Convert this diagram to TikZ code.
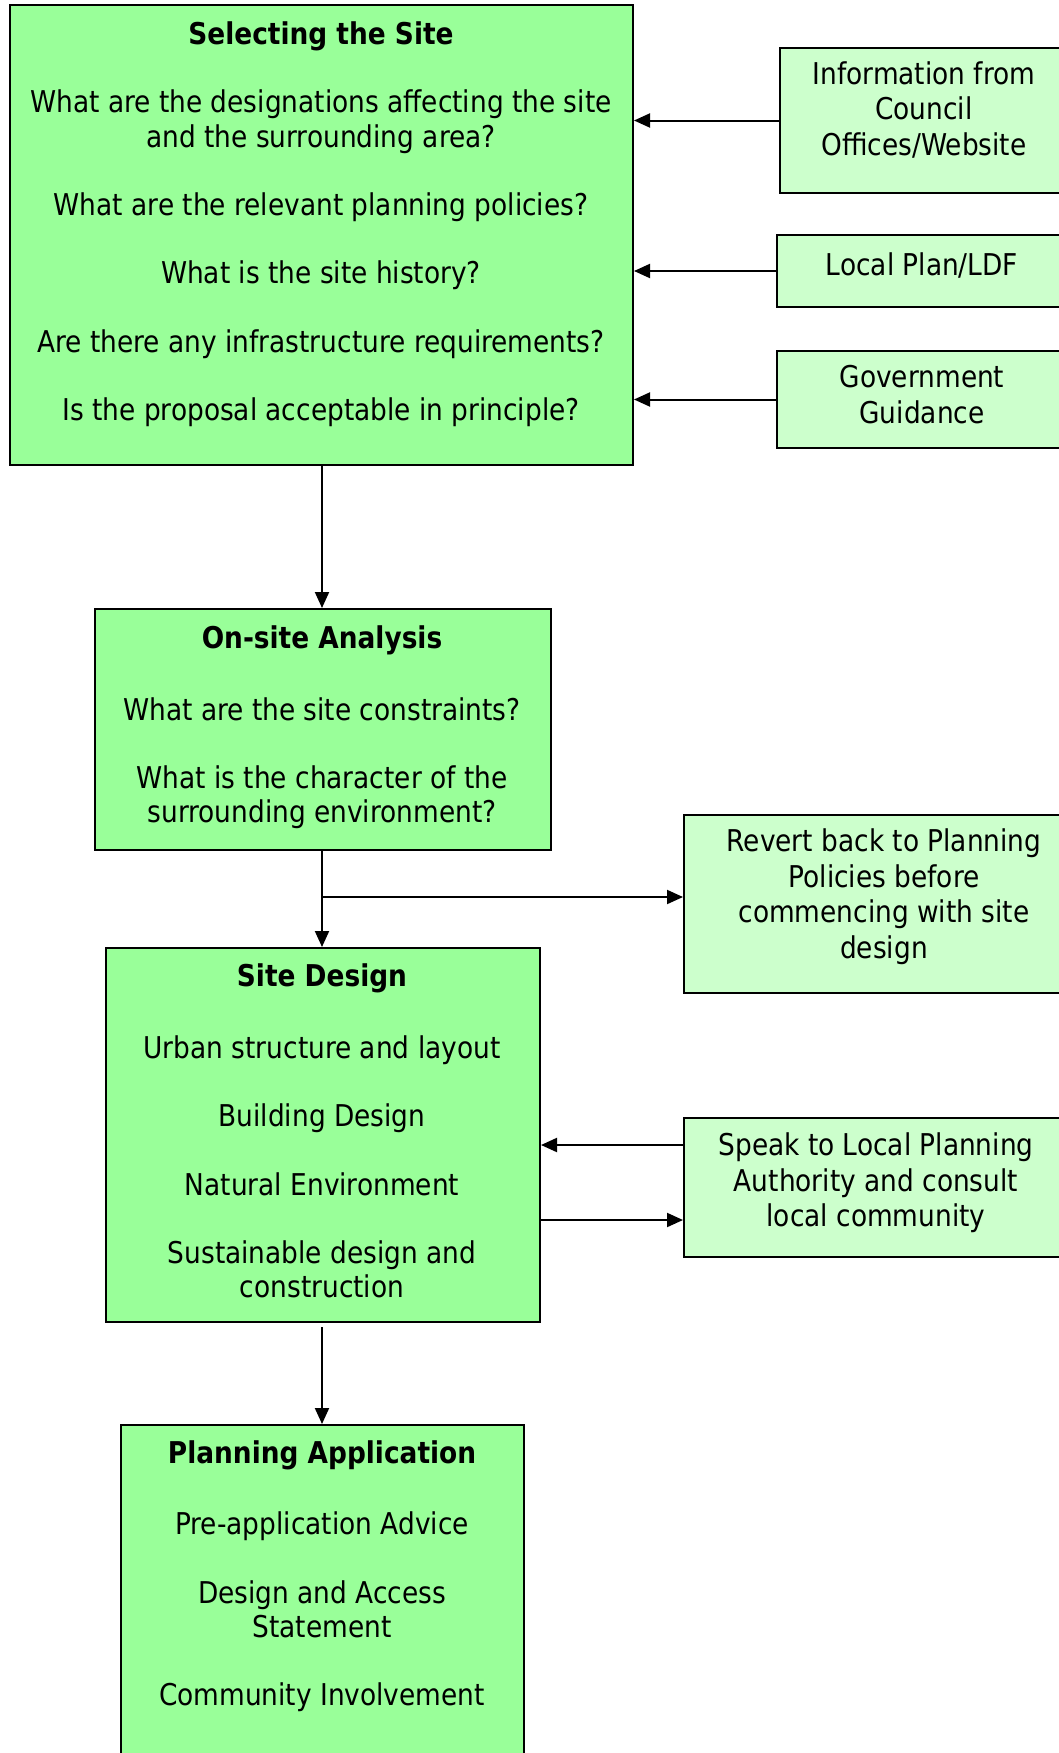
\documentclass[tikz,border=0pt]{standalone}
\usepackage{fontspec}
\setmainfont{DejaVu Sans}[FakeStretch=0.88]
\usetikzlibrary{arrows.meta}
\definecolor{maingreen}{RGB}{153,255,153}
\definecolor{sidegreen}{RGB}{204,255,204}
\begin{document}
\begin{tikzpicture}[x=1pt,y=-1pt,
  mainbox/.style={draw=black, line width=2pt, fill=maingreen, inner sep=0pt, anchor=north west},
  sidebox/.style={draw=black, line width=2pt, fill=sidegreen, inner sep=0pt, anchor=north west},
  txt/.style={align=center, inner sep=0pt, anchor=north, font=\fontsize{30}{34.2}\selectfont},
  sidetxt/.style={align=center, inner sep=0pt, anchor=north, font=\fontsize{30}{35.5}\selectfont},
  arr/.style={line width=2pt, -{Triangle[length=16pt,width=14pt]}}]
\useasboundingbox (0,0) rectangle (1058,1753);
% main boxes
\node[mainbox, minimum width=623pt, minimum height=459.5pt] (site) at (9,4.5) {};
\node[mainbox, minimum width=456pt, minimum height=241pt] (onsite) at (94,608) {};
\node[mainbox, minimum width=434pt, minimum height=374pt] (design) at (105,947) {};
\node[mainbox, minimum width=403pt, minimum height=345pt] (apply) at (120,1424) {};
% side boxes
\node[sidebox, minimum width=290pt, minimum height=145pt] (info) at (779,47) {};
\node[sidebox, minimum width=290pt, minimum height=72pt] (local) at (776,234) {};
\node[sidebox, minimum width=290pt, minimum height=97pt] (gov) at (776,350) {};
\node[sidebox, minimum width=400pt, minimum height=178pt] (revert) at (683,814) {};
\node[sidebox, minimum width=400pt, minimum height=139pt] (speak) at (683,1117) {};
% texts
\node[txt] (sitetxt) at (321,21.5) {\textbf{Selecting the Site}\\[34.2pt]
  What are the designations affecting the site\\ and the surrounding area?\\[34.2pt]
  What are the relevant planning policies?\\[34.2pt]
  What is the site history?\\[34.2pt]
  Are there any infrastructure requirements?\\[34.2pt]
  Is the proposal acceptable in principle?};
\node[txt] (onsitetxt) at (322,625.5) {\textbf{On-site Analysis}\\[37.6pt]
  What are the site constraints?\\[34.2pt]
  What is the character of the\\ surrounding environment?};
\node[txt] (designtxt) at (322,963.5) {\textbf{Site Design}\\[37.6pt]
  Urban structure and layout\\[34.2pt]
  Building Design\\[34.2pt]
  Natural Environment\\[34.2pt]
  Sustainable design and\\ construction};
\node[txt] (applytxt) at (322,1440) {\textbf{Planning Application}\\[37.6pt]
  Pre-application Advice\\[34.2pt]
  Design and Access\\ Statement\\[34.2pt]
  Community Involvement};
\node[sidetxt] (infotxt) at (924,61.5) {Information from\\ Council\\ Offices/Website};
\node[sidetxt] (localtxt) at (922,252.5) {Local Plan/LDF};
\node[sidetxt] (govtxt) at (922,365.5) {Government\\ Guidance};
\node[sidetxt] (reverttxt) at (884,828.5) {Revert back to Planning\\ Policies before\\ commencing with site\\ design};
\node[sidetxt] (speaktxt) at (876,1132.5) {Speak to Local Planning\\ Authority and consult\\ local community};
% connectors
\draw[arr] (info.west) -- (info.west -| site.east);
\draw[arr] (local.west) -- (local.west -| site.east);
\draw[arr] (gov.west) -- (gov.west -| site.east);
\draw[arr] (site.south -| 322,0) -- (onsite.north -| 322,0);
\coordinate (br) at (322,897);
\draw[arr] (onsite.south -| 322,0) -- (design.north -| 322,0);
\draw[arr] (br) -- (br -| revert.west);
\draw[arr] ([yshift=42.5pt]speak.west) -- ([yshift=42.5pt]speak.west -| design.east);
\draw[arr] ([yshift=-32.5pt]speak.west -| design.east) -- ([yshift=-32.5pt]speak.west);
\draw[arr] ([yshift=-4pt]design.south -| 322,0) -- (apply.north -| 322,0);
\end{tikzpicture}
\end{document}
